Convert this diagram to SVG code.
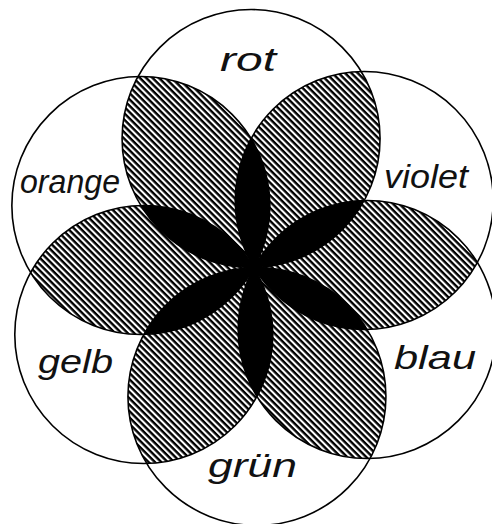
<svg xmlns="http://www.w3.org/2000/svg" width="492" height="524" viewBox="0 0 492 524">
  <style>
    .ring { fill: none; stroke: #000; stroke-width: 1.6; }
    .lbl { font-family: "Liberation Sans", Arial, sans-serif; font-style: italic; font-size: 33px; fill: #111; }
    .hatch { fill: url(#hatch); }
    .solid { fill: #000; }
  </style>
  <defs>
    <pattern id="hatch" width="4.5" height="4.5" patternUnits="userSpaceOnUse" patternTransform="rotate(45)">
      <rect width="4.5" height="2.4" fill="#000"/>
    </pattern>
    <clipPath id="c-rot"><circle cx="251.07" cy="138.53" r="129"/></clipPath>
    <clipPath id="c-violet"><circle cx="364.22" cy="200.48" r="129"/></clipPath>
    <clipPath id="c-blau"><circle cx="367.15" cy="329.45" r="129"/></clipPath>
    <clipPath id="c-gruen"><circle cx="256.93" cy="396.47" r="129"/></clipPath>
    <clipPath id="c-gelb"><circle cx="143.78" cy="334.52" r="129"/></clipPath>
    <clipPath id="c-orange"><circle cx="140.85" cy="205.55" r="129"/></clipPath>
  </defs>
  <rect width="492" height="524" fill="#fff"/>

  <g id="overlaps">
    <!-- adjacent pairs: hatched -->
    <circle class="hatch" cx="251.07" cy="138.53" r="129" clip-path="url(#c-violet)"/>
    <circle class="hatch" cx="364.22" cy="200.48" r="129" clip-path="url(#c-blau)"/>
    <circle class="hatch" cx="367.15" cy="329.45" r="129" clip-path="url(#c-gruen)"/>
    <circle class="hatch" cx="256.93" cy="396.47" r="129" clip-path="url(#c-gelb)"/>
    <circle class="hatch" cx="143.78" cy="334.52" r="129" clip-path="url(#c-orange)"/>
    <circle class="hatch" cx="140.85" cy="205.55" r="129" clip-path="url(#c-rot)"/>
    <!-- pairs two apart: black -->
    <circle class="solid" cx="140.85" cy="205.55" r="129" clip-path="url(#c-violet)"/>
    <circle class="solid" cx="251.07" cy="138.53" r="129" clip-path="url(#c-blau)"/>
    <circle class="solid" cx="364.22" cy="200.48" r="129" clip-path="url(#c-gruen)"/>
    <circle class="solid" cx="367.15" cy="329.45" r="129" clip-path="url(#c-gelb)"/>
    <circle class="solid" cx="256.93" cy="396.47" r="129" clip-path="url(#c-orange)"/>
    <circle class="solid" cx="143.78" cy="334.52" r="129" clip-path="url(#c-rot)"/>
  </g>

  <g id="rot">
    <circle class="ring" cx="251.07" cy="138.53" r="129"/>
    <text class="lbl" x="220" y="71" textLength="56" lengthAdjust="spacingAndGlyphs">rot</text>
  </g>
  <g id="violet">
    <circle class="ring" cx="364.22" cy="200.48" r="129"/>
    <text class="lbl" x="384" y="188" textLength="84" lengthAdjust="spacingAndGlyphs">violet</text>
  </g>
  <g id="blau">
    <circle class="ring" cx="367.15" cy="329.45" r="129"/>
    <text class="lbl" x="394" y="369" textLength="82" lengthAdjust="spacingAndGlyphs">blau</text>
  </g>
  <g id="gruen">
    <circle class="ring" cx="256.93" cy="396.47" r="129"/>
    <text class="lbl" x="208" y="477" textLength="89" lengthAdjust="spacingAndGlyphs">grün</text>
  </g>
  <g id="gelb">
    <circle class="ring" cx="143.78" cy="334.52" r="129"/>
    <text class="lbl" x="38" y="373" textLength="75" lengthAdjust="spacingAndGlyphs">gelb</text>
  </g>
  <g id="orange">
    <circle class="ring" cx="140.85" cy="205.55" r="129"/>
    <text class="lbl" x="20" y="193" textLength="100" lengthAdjust="spacingAndGlyphs">orange</text>
  </g>
</svg>
